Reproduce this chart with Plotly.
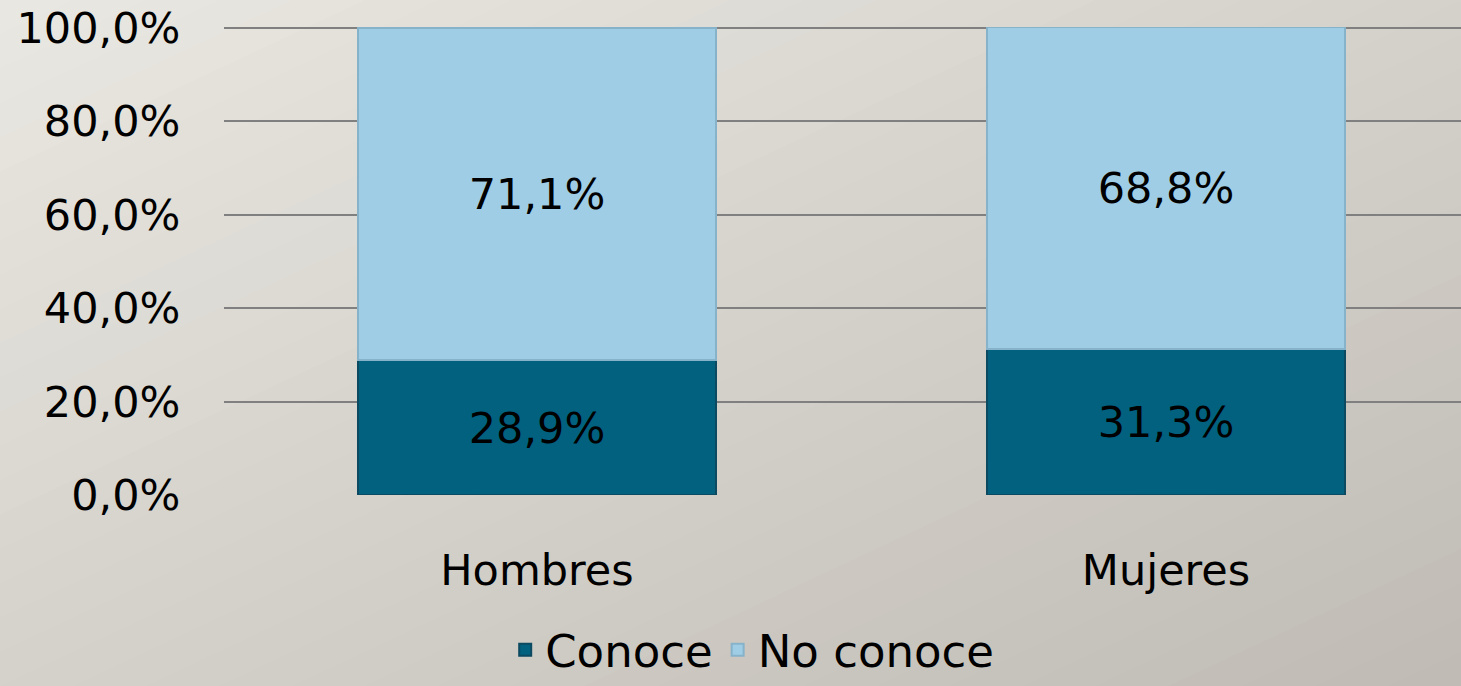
import plotly.graph_objects as go

categories = ['Hombres', 'Mujeres']
conoce = [28.9, 31.3]
no_conoce = [71.1, 68.8]
tick_vals = [0, 20, 40, 60, 80, 100]
tick_text = ['0,0%', '20,0%', '40,0%', '60,0%', '80,0%', '100,0%']

FONT = 'DejaVu Sans'


def pct(v):
    return f'{v:.1f}%'.replace('.', ',')


fig = go.Figure()
fig.add_trace(go.Bar(x=categories, y=conoce, name='Conoce',
                     marker=dict(color='#01617f', line=dict(color='#0b4a60', width=1.5)),
                     text=[pct(v) for v in conoce], textposition='inside',
                     insidetextanchor='middle',
                     textfont=dict(color='black', size=43, family=FONT)))
fig.add_trace(go.Bar(x=categories, y=no_conoce, name='No conoce',
                     marker=dict(color='#a0cde6', line=dict(color='#86b2ca', width=1.5)),
                     text=[pct(v) for v in no_conoce], textposition='inside',
                     insidetextanchor='middle',
                     textfont=dict(color='black', size=43, family=FONT)))

H = 686
T, B = 19, 191
plot_h = H - T - B
fig.update_layout(
    barmode='stack',
    bargap=0.431,
    width=1461, height=H,
    margin=dict(l=224, r=0, t=T, b=B),
    paper_bgcolor='#d6d3cd',
    plot_bgcolor='rgba(0,0,0,0)',
    font=dict(family=FONT, size=43, color='black'),
    showlegend=True,
    legend=dict(orientation='h', x=0.427, xanchor='center',
                y=-B / plot_h, yanchor='bottom',
                font=dict(size=45, family=FONT), itemsizing='constant',
                bgcolor='rgba(0,0,0,0)', traceorder='normal'),
    xaxis=dict(range=[-0.4976, 1.469], showgrid=False, zeroline=False,
               showline=False, ticks='outside', ticklen=37, automargin=False,
               tickcolor='rgba(0,0,0,0)', tickfont=dict(size=43)),
    yaxis=dict(range=[0, 101.93], tickvals=tick_vals, ticktext=tick_text,
               showgrid=True, gridcolor='#808080', gridwidth=1.5, automargin=False,
               zeroline=False, showline=False, ticks='outside', ticklen=34,
               tickcolor='rgba(0,0,0,0)', tickfont=dict(size=43)),
)

# page background: diagonal gradient, light top-left to darker bottom-right
n = 40
c0 = (233, 231, 225)
c1 = (192, 188, 181)
plot_w = 1461 - 224
px0 = -224 / plot_w
px1 = 1.0
py0 = -B / plot_h
py1 = 1 + T / plot_h


def pt(u, v):
    return px0 + u * (px1 - px0), py1 - v * (py1 - py0)


bg = []
for i in range(n):
    t = i / (n - 1)
    col = 'rgb({},{},{})'.format(*[round(a + (b - a) * t) for a, b in zip(c0, c1)])
    s0, s1 = 2 * i / n, 2 * (i + 1) / n + 0.01
    p = [pt(s0 + 1, -1), pt(s1 + 1, -1), pt(s1 - 2, 2), pt(s0 - 2, 2)]
    path = 'M ' + ' L '.join(f'{x:.4f},{y:.4f}' for x, y in p) + ' Z'
    bg.append(dict(type='path', xref='paper', yref='paper', path=path,
                   fillcolor=col, line=dict(width=0), layer='below'))
fig.update_layout(shapes=bg)

fig.write_html('out.html', config={'displayModeBar': False},
               post_script="document.body.style.margin='0';document.body.style.overflow='hidden';")
